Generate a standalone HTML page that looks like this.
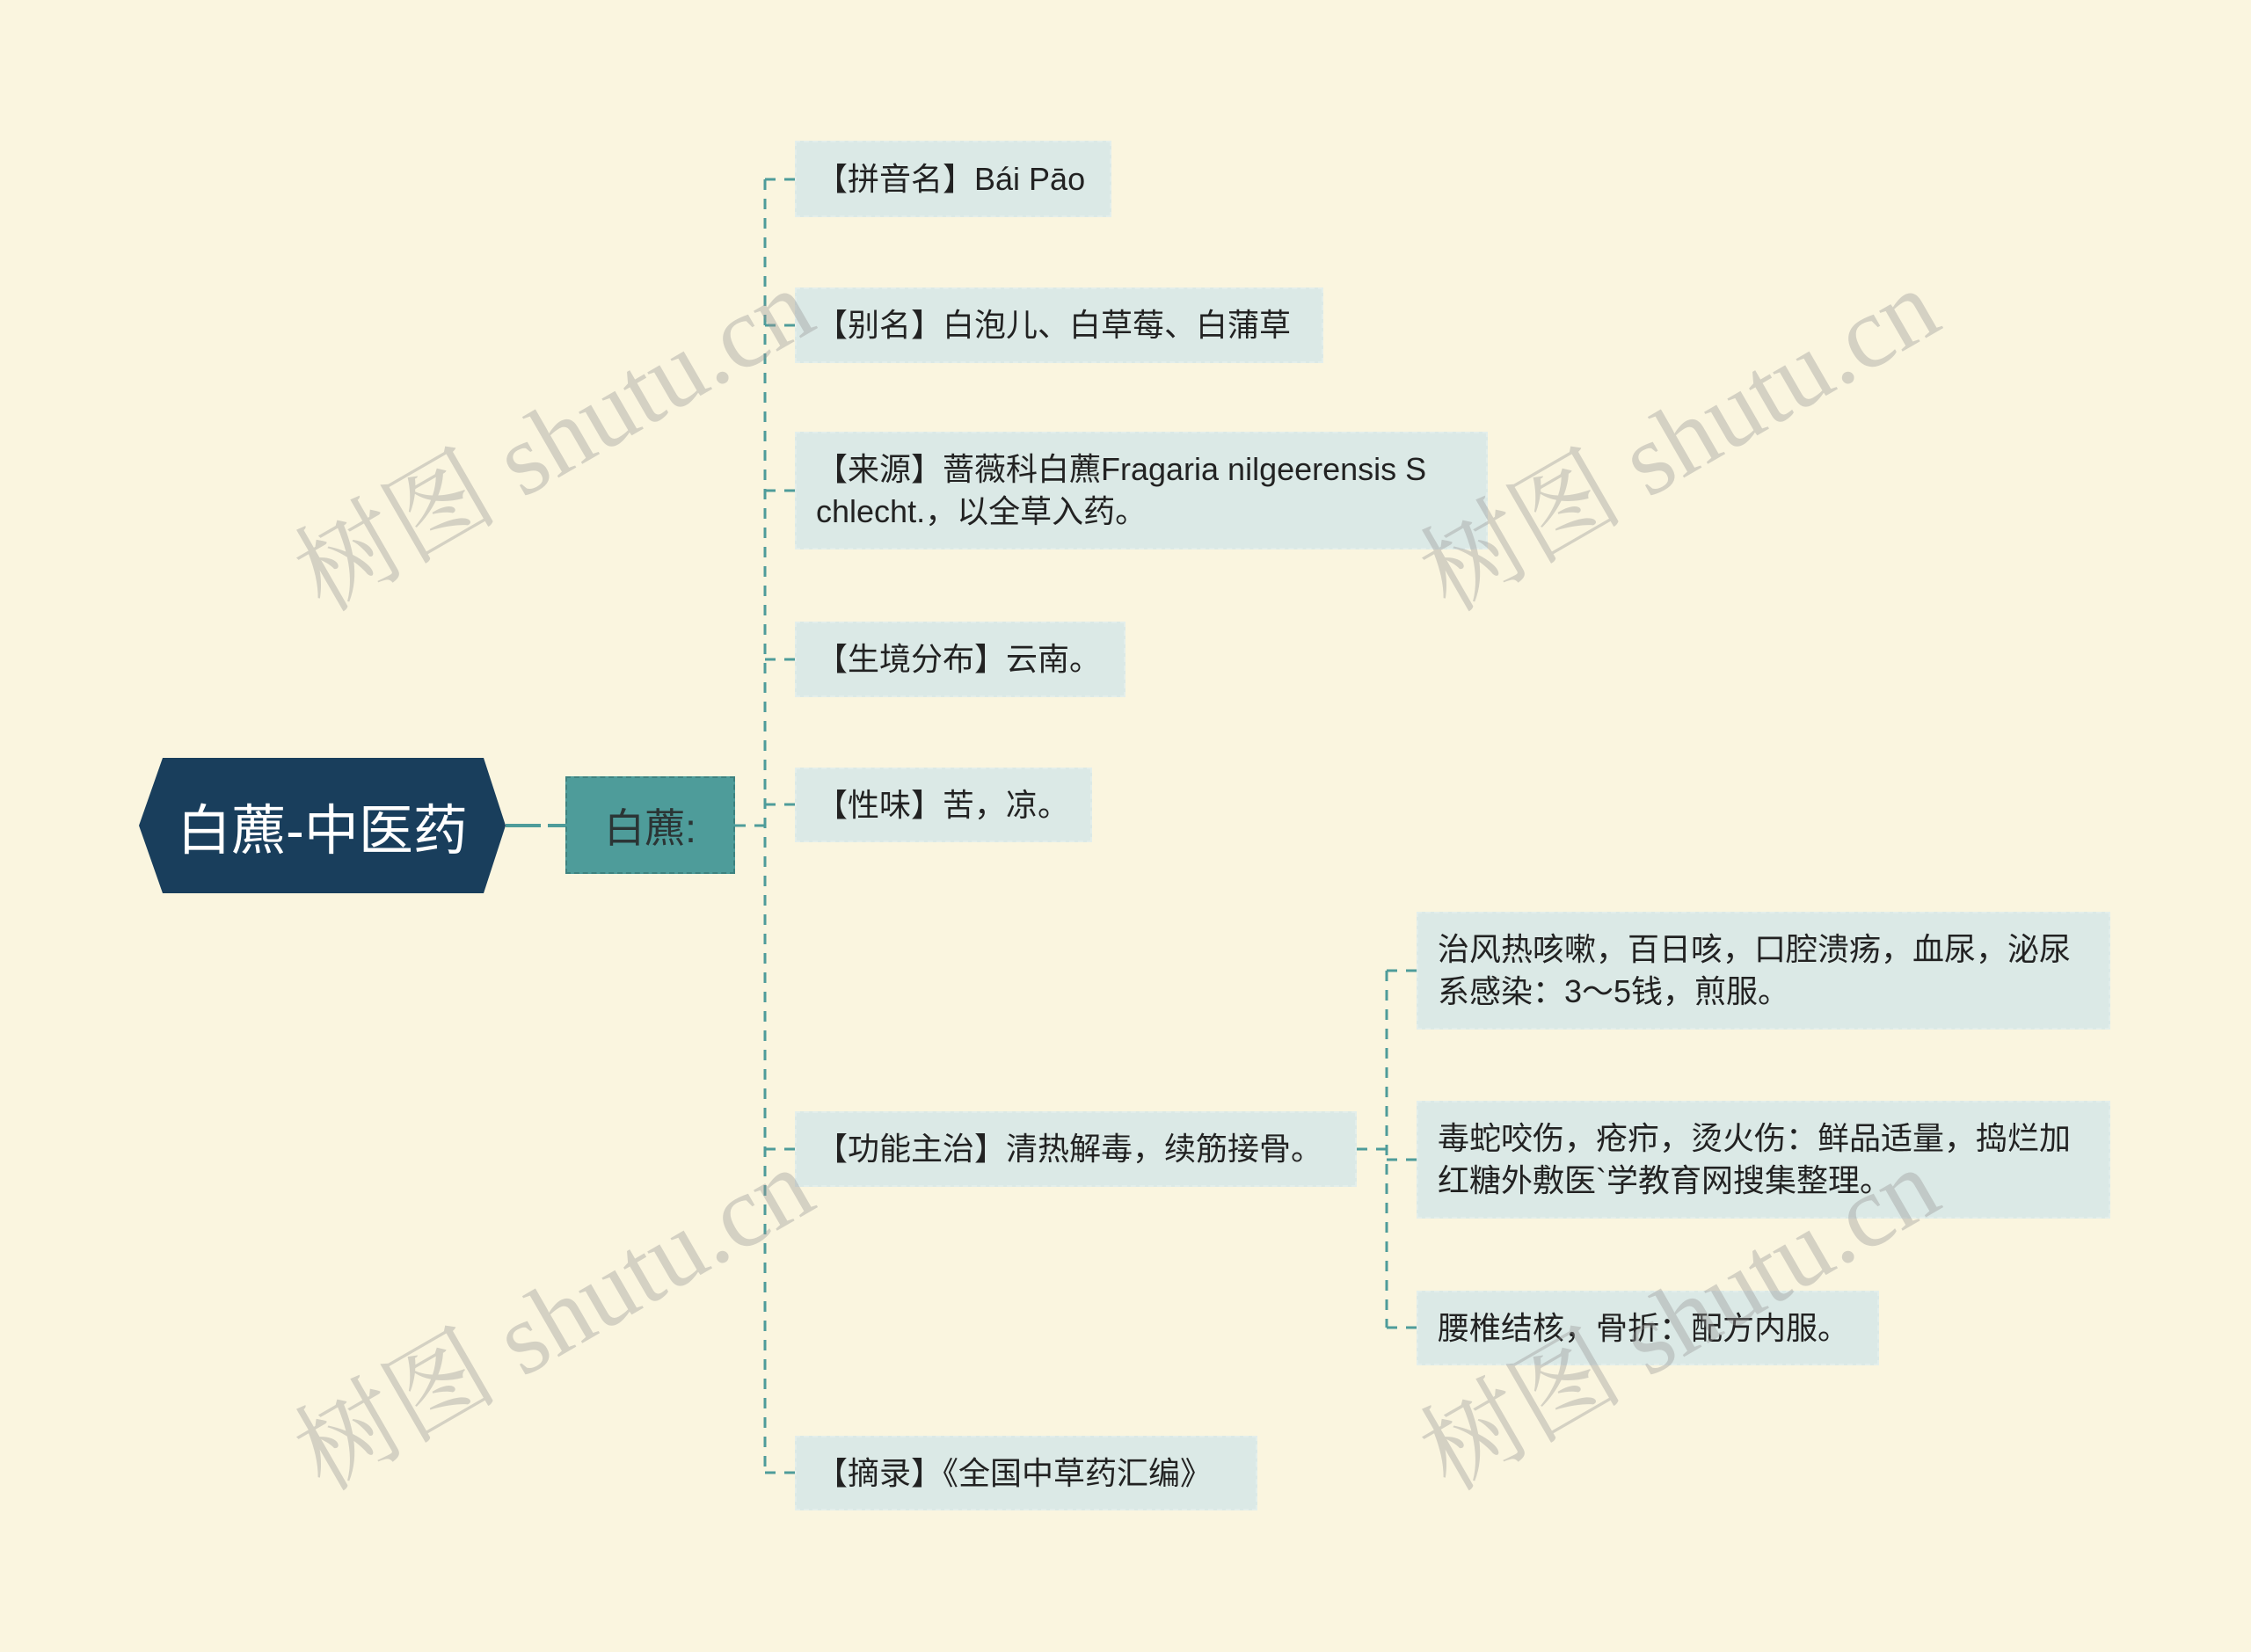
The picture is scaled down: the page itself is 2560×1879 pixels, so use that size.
<!DOCTYPE html>
<html><head><meta charset="utf-8"><style>
body{margin:0;width:2560px;height:1879px;background:#faf5df;position:relative;overflow:hidden;font-family:"Liberation Sans","Noto Sans CJK SC",sans-serif}
.n{position:absolute;background:#dbe9e6;color:#222;font-size:36px;line-height:48px;padding:0 22px;box-sizing:border-box;display:flex;align-items:center;border:2px dashed #e3eeeb}
.wm{position:absolute;color:rgba(150,150,150,.38);font-size:116px;font-family:"Liberation Serif","Noto Serif CJK SC",serif;transform:rotate(-30deg);transform-origin:left bottom;white-space:nowrap}
</style></head><body>
<svg width="2560" height="1879" style="position:absolute;left:0;top:0">
<polygon points="185,862 550,862 575,939 550,1016 185,1016 158,939" fill="#193e5c"/>
<line x1="575" y1="939" x2="643" y2="939" stroke="#4e9c9a" stroke-width="4" stroke-dasharray="40 8"/>
<g stroke="#4e9c9a" stroke-width="3" stroke-dasharray="12 10" fill="none">
<line x1="836" y1="939" x2="870" y2="939"/>
<line x1="870" y1="204" x2="870" y2="1675"/>
<line x1="870" y1="204" x2="904" y2="204"/>
<line x1="870" y1="370" x2="904" y2="370"/>
<line x1="870" y1="558" x2="904" y2="558"/>
<line x1="870" y1="750" x2="904" y2="750"/>
<line x1="870" y1="915" x2="904" y2="915"/>
<line x1="870" y1="1307" x2="904" y2="1307"/>
<line x1="870" y1="1675" x2="904" y2="1675"/>
<line x1="1543" y1="1307" x2="1577" y2="1307"/>
<line x1="1577" y1="1104" x2="1577" y2="1510"/>
<line x1="1577" y1="1104" x2="1611" y2="1104"/>
<line x1="1577" y1="1319" x2="1611" y2="1319"/>
<line x1="1577" y1="1510" x2="1611" y2="1510"/>
</g>
</svg>
<div style="position:absolute;left:158px;top:862px;width:417px;height:154px;display:flex;align-items:center;justify-content:center;color:#fff;font-size:62px">白藨-中医药</div>
<div style="position:absolute;left:643px;top:883px;width:193px;height:111px;background:#4e9c9a;border:2px dashed #3d8280;box-sizing:border-box;display:flex;align-items:center;justify-content:center;color:#2b3535;font-size:46px">白藨:</div>
<div class="n" style="left:904px;top:160px;width:360px;height:87px">【拼音名】Bái Pāo</div>
<div class="n" style="left:904px;top:327px;width:601px;height:86px">【别名】白泡儿、白草莓、白蒲草</div>
<div class="n" style="left:904px;top:491px;width:788px;height:134px">【来源】蔷薇科白藨Fragaria nilgeerensis S<br>chlecht.，以全草入药。</div>
<div class="n" style="left:904px;top:707px;width:376px;height:86px">【生境分布】云南。</div>
<div class="n" style="left:904px;top:873px;width:338px;height:85px">【性味】苦，凉。</div>
<div class="n" style="left:904px;top:1264px;width:639px;height:86px">【功能主治】清热解毒，续筋接骨。</div>
<div class="n" style="left:904px;top:1633px;width:526px;height:85px">【摘录】《全国中草药汇编》</div>
<div class="n" style="left:1611px;top:1037px;width:789px;height:134px">治风热咳嗽，百日咳，口腔溃疡，血尿，泌尿<br>系感染：3～5钱，煎服。</div>
<div class="n" style="left:1611px;top:1252px;width:789px;height:134px">毒蛇咬伤，疮疖，烫火伤：鲜品适量，捣烂加<br>红糖外敷医`学教育网搜集整理。</div>
<div class="n" style="left:1611px;top:1468px;width:526px;height:85px">腰椎结核，骨折：配方内服。</div>
<div class="wm" style="left:385px;top:560px">树图 shutu.cn</div>
<div class="wm" style="left:1665px;top:560px">树图 shutu.cn</div>
<div class="wm" style="left:385px;top:1560px">树图 shutu.cn</div>
<div class="wm" style="left:1665px;top:1560px">树图 shutu.cn</div>
</body></html>
